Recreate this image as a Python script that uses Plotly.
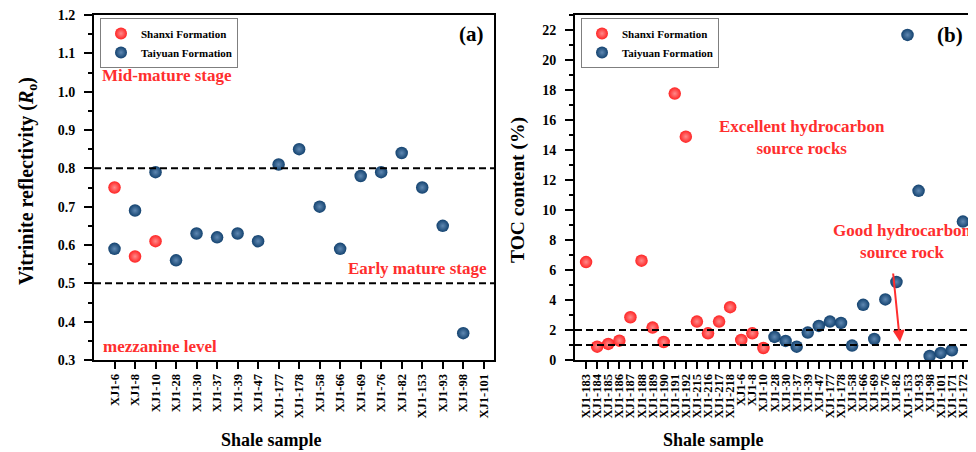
import plotly.graph_objects as go

# ---------------- data ----------------
samples_a = ["XJ1-6", "XJ1-8", "XJ1-10", "XJ1-28", "XJ1-30", "XJ1-37", "XJ1-39", "XJ1-47",
             "XJ1-177", "XJ1-178", "XJ1-58", "XJ1-66", "XJ1-69", "XJ1-76", "XJ1-82",
             "XJ1-153", "XJ1-93", "XJ1-98", "XJ1-101"]
ro_shanxi = [0.75, 0.57, 0.61, None, None, None, None, None, None, None,
             None, None, None, None, None, None, None, None, None]
ro_taiyuan = [0.59, 0.69, 0.79, 0.56, 0.63, 0.62, 0.63, 0.61, 0.81, 0.85,
              0.70, 0.59, 0.78, 0.79, 0.84, 0.75, 0.65, 0.37, None]
ro_ticks = [0.3, 0.4, 0.5, 0.6, 0.7, 0.8, 0.9, 1.0, 1.1, 1.2]

samples_b = ["XJ1-183", "XJ1-184", "XJ1-185", "XJ1-186", "XJ1-187", "XJ1-188", "XJ1-189",
             "XJ1-190", "XJ1-191", "XJ1-192", "XJ1-215", "XJ1-216", "XJ1-217", "XJ1-218",
             "XJ1-6", "XJ1-8", "XJ1-10", "XJ1-28", "XJ1-30", "XJ1-37", "XJ1-39", "XJ1-47",
             "XJ1-177", "XJ1-178", "XJ1-58", "XJ1-66", "XJ1-69", "XJ1-76", "XJ1-82",
             "XJ1-153", "XJ1-93", "XJ1-98", "XJ1-101", "XJ1-171", "XJ1-172"]
toc_shanxi = [6.53, 0.89, 1.07, 1.29, 2.85, 6.62, 2.16, 1.20, 17.76, 14.89, 2.56, 1.78,
              2.56, 3.52, 1.34, 1.78, 0.80] + [None] * 18
toc_taiyuan = [None] * 17 + [1.54, 1.27, 0.89, 1.83, 2.27, 2.56, 2.47, 0.96, 3.68, 1.40,
                             4.04, 5.20, 21.67, 11.28, 0.27, 0.47, 0.65, 9.23]

ro_limits = [0.8, 0.5]
toc_limits = [2, 1]

# ---------------- style ----------------
FONT = "Liberation Serif"
RED = "#FF2424"
RED_HI = "#FF8A8A"
BLUE = "#13426F"
BLUE_HI = "#5F88B2"
TXT_RED = "#FF2E2E"

# the page body adds an 8px offset; lay out in window pixels
OFF = 8
W, H = 976 - OFF, 452 - OFF


def px(x):
    return (x - OFF) / W


def py(y):
    return 1 - (y - OFF) / H


pos_a = list(range(1, len(samples_a) + 1))
pos_b = list(range(1, len(samples_b) + 1))

fig = go.Figure()


def marker(c, hi):
    return dict(size=12.5, color=c, gradient=dict(type="radial", color=hi),
                line=dict(width=0))


fig.add_trace(go.Scatter(x=pos_a, y=ro_shanxi, mode="markers", name="Shanxi Formation",
                         marker=marker(RED, RED_HI), xaxis="x", yaxis="y", legend="legend"))
fig.add_trace(go.Scatter(x=pos_a, y=ro_taiyuan, mode="markers", name="Taiyuan Formation",
                         marker=marker(BLUE, BLUE_HI), xaxis="x", yaxis="y", legend="legend"))
fig.add_trace(go.Scatter(x=pos_b, y=toc_shanxi, mode="markers", name="Shanxi Formation",
                         marker=marker(RED, RED_HI), xaxis="x2", yaxis="y2", legend="legend2"))
fig.add_trace(go.Scatter(x=pos_b, y=toc_taiyuan, mode="markers", name="Taiyuan Formation",
                         marker=marker(BLUE, BLUE_HI), xaxis="x2", yaxis="y2", legend="legend2"))

# dashed limit lines
for v in ro_limits:
    fig.add_shape(type="line", xref="x domain", yref="y", x0=0, x1=1, y0=v, y1=v,
                  line=dict(color="black", width=2, dash="7px,4px"))
for v in toc_limits:
    fig.add_shape(type="line", xref="x2 domain", yref="y2", x0=0, x1=1, y0=v, y1=v,
                  line=dict(color="black", width=2, dash="7px,4px"))

tickfont = dict(family=FONT, size=14, color="black", weight="bold")
xtickfont = dict(family=FONT, size=12.5, color="black", weight="bold")

common_axis = dict(showline=True, linewidth=2, linecolor="black", mirror=True,
                   showgrid=False, zeroline=False, ticks="outside", tickwidth=2,
                   tickcolor="black", automargin=False, ticklabeloverflow="allow")

ydom = [py(360), py(15)]

fig.update_layout(
    width=W, height=H,
    margin=dict(l=0, r=0, t=0, b=0, pad=0, autoexpand=False),
    paper_bgcolor="white", plot_bgcolor="white",
    showlegend=True,
    xaxis=dict(domain=[px(94), px(494)], range=[0, 19.5], anchor="y",
               tickmode="array", tickvals=pos_a, ticktext=samples_a,
               tickangle=-90, ticklen=7, tickfont=xtickfont, **common_axis),
    yaxis=dict(domain=ydom, range=[0.3, 1.2], anchor="x",
               tickmode="array", tickvals=ro_ticks,
               ticktext=[f"{v:.1f}" for v in ro_ticks],
               ticklen=8, tickfont=tickfont, ticklabelstandoff=6,
               minor=dict(dtick=0.05, tick0=0.3, ticks="outside", ticklen=4, tickwidth=2,
                          tickcolor="black", showgrid=False),
               **common_axis),
    xaxis2=dict(domain=[px(575), px(974)], range=[0, 36], anchor="y2",
                tickmode="array", tickvals=pos_b, ticktext=samples_b,
                tickangle=-90, ticklen=7, tickfont=xtickfont, **common_axis),
    yaxis2=dict(domain=ydom, range=[0, 23], anchor="x2", dtick=2, tick0=0,
                ticklen=8, tickfont=tickfont, ticklabelstandoff=6,
                minor=dict(dtick=1, ticks="outside", ticklen=4, tickwidth=2,
                           tickcolor="black", showgrid=False),
                **common_axis),
    legend=dict(x=px(100), y=py(18), xanchor="left", yanchor="top",
                bgcolor="white", bordercolor="#7F7F7F", borderwidth=1,
                font=dict(family=FONT, size=11, color="black", weight="bold"),
                tracegroupgap=0, itemsizing="constant"),
    legend2=dict(x=px(581), y=py(18), xanchor="left", yanchor="top",
                 bgcolor="white", bordercolor="#7F7F7F", borderwidth=1,
                 font=dict(family=FONT, size=11, color="black", weight="bold"),
                 tracegroupgap=0, itemsizing="constant"),
)


def ann(text, x, y, size=17, color=TXT_RED, angle=0, xanchor="center"):
    fig.add_annotation(text=text, xref="paper", yref="paper", x=px(x), y=py(y),
                       xanchor=xanchor, yanchor="middle", showarrow=False,
                       textangle=angle,
                       font=dict(family=FONT, size=size, color=color, weight="bold"))


ann("Mid-mature stage", 100, 75, xanchor="left")
ann("Early mature stage", 489, 268, xanchor="right")
ann("mezzanine level", 101, 346, xanchor="left")
ann("(a)", 471, 34, size=21, color="black")
ann("(b)", 950, 35, size=21, color="black")
ann("Excellent hydrocarbon<br>source rocks", 802, 137)
ann("Good hydrocarbon<br>source rock", 902, 241)
ann("Vitrinite reflectivity (<i>R</i><sub>o</sub>)", 27, 181, size=20, color="black", angle=-90)
ann("TOC content (%)", 518, 190, size=19.5, color="black", angle=-90)
ann("Shale sample", 271, 440, size=18, color="black")
ann("Shale sample", 713, 440, size=18, color="black")

# arrow pointing at the good-source-rock band
fig.add_annotation(x=px(900), y=py(342), xref="paper", yref="paper",
                   ax=-7, ay=-70, axref="pixel", ayref="pixel",
                   text="", showarrow=True, arrowhead=2, arrowsize=1.2,
                   arrowwidth=2, arrowcolor="#FF2E2E")

fig.write_html("out.html")
